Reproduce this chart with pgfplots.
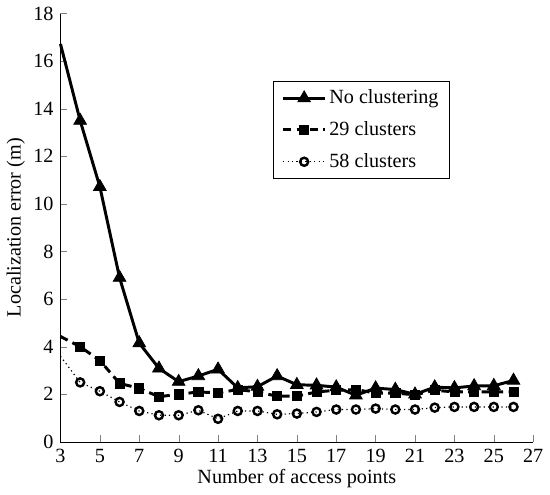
\documentclass[border=0pt]{standalone}
\usepackage{fontspec}
\setmainfont{Liberation Serif}
\usepackage{pgfplots}
\pgfplotsset{compat=1.18}

\begin{document}
\rmfamily\fontsize{15}{18}\selectfont
\begin{tikzpicture}
\begin{axis}[
    width=351.75pt, height=318.75pt,
    scale only axis,
    axis x line*=bottom, axis y line*=left,
    tick align=inside,
    major tick length=5pt,
    xmin=3, xmax=27, ymin=0, ymax=18,
    xtick={3,5,...,27}, ytick={0,2,...,18},
    /pgf/number format/assume math mode=true,
    xticklabel={\pgfmathprintnumber{\tick}},
    yticklabel={\pgfmathprintnumber{\tick}},
    tick label style={font=\rmfamily\fontsize{15}{18}\selectfont},
    label style={font=\rmfamily\fontsize{15}{18}\selectfont},
    xlabel={Number of access points},
    ylabel={Localization error (m)},
    xlabel style={yshift=5pt},
    ylabel style={yshift=-4pt},
    clip=false,
    legend style={at={(0.45,0.842)}, anchor=north west, draw=black, line width=0.6pt,
        font=\rmfamily\fontsize{15}{18}\selectfont, row sep=7pt, inner xsep=6pt, inner ysep=4pt},
    legend cell align=left,
    legend image code/.code={
        \draw[mark repeat=2,mark phase=2,#1] plot coordinates {(0cm,0cm) (0.55cm,0cm) (1.1cm,0cm)};
    },
]
\addplot[black, line width=2.2pt, mark=triangle*, mark size=5.5pt, mark phase=2, mark repeat=1,
    mark options={solid, line width=0.5pt}]
coordinates {(3,16.72) (4,13.5) (5,10.72) (6,6.9) (7,4.15) (8,3.09) (9,2.53) (10,2.77) (11,3.05)
 (12,2.27) (13,2.32) (14,2.77) (15,2.4) (16,2.38) (17,2.3) (18,1.96) (19,2.26) (20,2.2)
 (21,2.0) (22,2.3) (23,2.27) (24,2.35) (25,2.36) (26,2.58)};
\addlegendentry{No clustering}
\addplot[black, line width=2.2pt, dash pattern=on 6pt off 4pt, mark=square*, mark size=3.4pt,
    mark phase=2, mark repeat=1, mark options={solid, line width=0.5pt}]
coordinates {(3,4.43) (4,4.0) (5,3.42) (6,2.46) (7,2.25) (8,1.9) (9,2.0) (10,2.1) (11,2.06)
 (12,2.2) (13,2.1) (14,1.92) (15,1.92) (16,2.1) (17,2.17) (18,2.2) (19,2.05) (20,2.05)
 (21,1.98) (22,2.17) (23,2.1) (24,2.1) (25,2.1) (26,2.1)};
\addlegendentry{29 clusters}
\addplot[black, line width=0.9pt, dash pattern=on 0.9pt off 2.4pt, mark=o, mark size=3pt,
    mark phase=2, mark repeat=1, mark options={solid, line width=1.8pt}]
coordinates {(3,3.6) (4,2.5) (5,2.13) (6,1.68) (7,1.3) (8,1.12) (9,1.12) (10,1.33) (11,0.97)
 (12,1.3) (13,1.3) (14,1.16) (15,1.19) (16,1.26) (17,1.36) (18,1.36) (19,1.4) (20,1.36)
 (21,1.36) (22,1.44) (23,1.47) (24,1.47) (25,1.47) (26,1.47)};
\addlegendentry{58 clusters}
\end{axis}
\end{tikzpicture}
\end{document}
